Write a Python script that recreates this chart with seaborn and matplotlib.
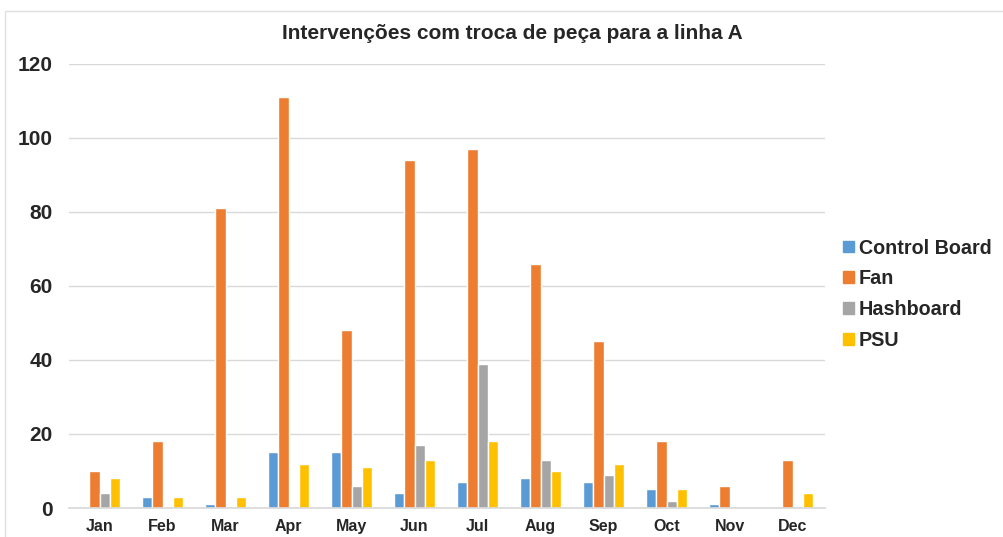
import pandas as pd
import matplotlib.pyplot as plt
import matplotlib.patches as mpatches
import seaborn as sns

months = ['Jan', 'Feb', 'Mar', 'Apr', 'May', 'Jun', 'Jul', 'Aug', 'Sep', 'Oct', 'Nov', 'Dec']
control_board = [0, 3, 1, 15, 15, 4, 7, 8, 7, 5, 1, 0]
fan = [10, 18, 81, 111, 48, 94, 97, 66, 45, 18, 6, 13]
hashboard = [4, 0, 0, 0, 6, 17, 39, 13, 9, 2, 0, 0]
psu = [8, 3, 3, 12, 11, 13, 18, 10, 12, 5, 0, 4]
parts = ['Control Board', 'Fan', 'Hashboard', 'PSU']
colors = ['#5B9BD5', '#ED7D31', '#A5A5A5', '#FFC000']

df = pd.DataFrame({'Month': months, 'Control Board': control_board, 'Fan': fan,
                   'Hashboard': hashboard, 'PSU': psu})
long_df = df.melt(id_vars='Month', var_name='Part', value_name='Count')

sns.set_theme(style='white')
plt.rcParams['font.family'] = ['Liberation Sans', 'DejaVu Sans']

fig = plt.figure(figsize=(10.04, 5.37), dpi=100)
ax = fig.add_axes([0.069, 0.054, 0.753, 0.827])

sns.barplot(data=long_df, x='Month', y='Count', hue='Part', hue_order=parts,
            palette=colors, width=0.66, saturation=1, ax=ax, legend=False)

ax.set_ylim(0, 120)
ax.set_yticks(range(0, 121, 20))
ax.set_xlim(-0.48, 11.52)
ax.yaxis.grid(True, color='#D9D9D9', linewidth=1)
ax.set_axisbelow(True)
for s in ['top', 'right', 'left']:
    ax.spines[s].set_visible(False)
ax.spines['bottom'].set_color('#D9D9D9')
ax.set_xlabel('')
ax.set_ylabel('')
ax.tick_params(axis='y', labelsize=15, pad=12, length=0)
ax.tick_params(axis='x', labelsize=11.5, pad=8, length=0)
for lbl in ax.get_xticklabels() + ax.get_yticklabels():
    lbl.set_fontweight('bold')

fig.text(0.51, 0.938, 'Intervenções com troca de peça para a linha A',
         ha='center', va='center', fontsize=15, fontweight='bold')

handles = [mpatches.Patch(color=c, label=p) for c, p in zip(colors, parts)]
fig.legend(handles=handles, loc='center left', bbox_to_anchor=(0.826, 0.452),
           frameon=False, prop={'size': 14.2, 'weight': 'bold'},
           handlelength=0.55, handleheight=0.55, handletextpad=0.25,
           labelspacing=0.6, borderpad=0.2)

fig.patches.append(mpatches.Rectangle((0.005, -0.01), 1.1, 0.99, transform=fig.transFigure,
                                      fill=False, edgecolor='#E0E0E0', linewidth=1))

fig.savefig('out.png', dpi=100)
